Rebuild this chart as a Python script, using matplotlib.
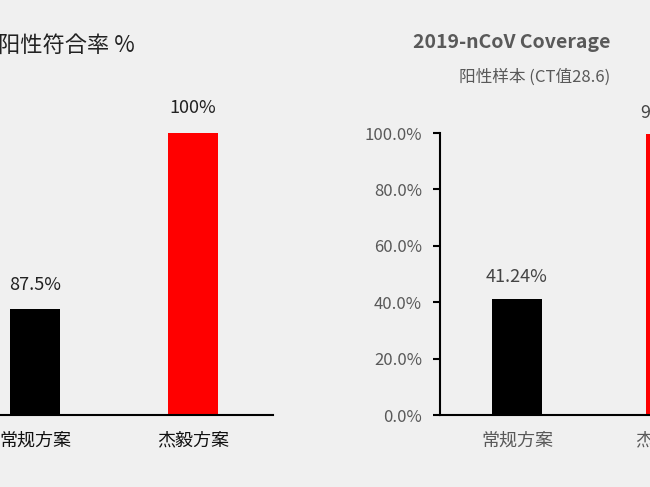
import matplotlib
matplotlib.use("Agg")
import matplotlib.pyplot as plt
from matplotlib import font_manager
from matplotlib.ticker import FuncFormatter

cjk = [f.name for f in font_manager.fontManager.ttflist if "CJK" in f.name]
pref = [n for n in ["Noto Sans CJK SC", "Noto Sans CJK JP", "Noto Sans CJK TC", "Noto Sans CJK KR"] if n in cjk]
plt.rcParams['font.family'] = (pref or cjk[:1]) + ['DejaVu Sans']

categories = ["常规方案", "杰毅方案"]
left_values = [87.5, 100]
left_labels = ["87.5%", "100%"]
right_values = [41.24, 99.48]
right_labels = ["41.24%", "99.48%"]
colors = ["#000000", "#ff0000"]
right_ticks = [0, 20, 40, 60, 80, 100]

W, H = 650, 487
fig = plt.figure(figsize=(6.5, 4.87), dpi=100)
fig.patch.set_facecolor("#f0f0f0")

def px(x0, y0, x1, y1):
    return [x0 / W, 1 - y1 / H, (x1 - x0) / W, (y1 - y0) / H]

# left chart
ax1 = fig.add_axes(px(-45, 133, 273, 415))
ax1.set_facecolor("none")
ax1.bar(range(2), [v - 80 for v in left_values], bottom=80, width=0.32, color=colors)
ax1.set_xlim(-0.506, 1.506)
ax1.set_ylim(80, 100)
for i, (v, l) in enumerate(zip(left_values, left_labels)):
    ax1.text(i, v + 1.1, l, ha="center", va="bottom", fontsize=13, color="#222222", clip_on=False)
for s in ["top", "right", "left"]:
    ax1.spines[s].set_visible(False)
ax1.spines["bottom"].set_linewidth(1.5)
ax1.set_yticks([])
ax1.set_xticks(range(2))
ax1.set_xticklabels(categories, fontsize=13, color="#111111")
ax1.tick_params(axis="x", length=0, pad=12)
fig.text(-2 / W, 1 - 45 / H, "阳性符合率 %", fontsize=16, color="#222222", va="center", ha="left")

# right chart
ax2 = fig.add_axes(px(440, 133, 748, 415))
ax2.set_facecolor("none")
ax2.bar(range(2), right_values, width=0.33, color=colors)
ax2.set_xlim(-0.5, 1.5)
ax2.set_ylim(0, 100)
for i, (v, l) in enumerate(zip(right_values, right_labels)):
    ax2.text(i, v + 4.5, l, ha="center", va="bottom", fontsize=13, color="#444444", clip_on=False)
for s in ["top", "right"]:
    ax2.spines[s].set_visible(False)
ax2.spines["bottom"].set_linewidth(1.5)
ax2.spines["left"].set_linewidth(1.5)
ax2.set_yticks(right_ticks)
ax2.yaxis.set_major_formatter(FuncFormatter(lambda v, p: f"{v:.1f}%"))
ax2.tick_params(axis="y", labelsize=12, labelcolor="#595959", length=5, width=1.5, pad=8)
ax2.set_xticks(range(2))
ax2.set_xticklabels(categories, fontsize=13, color="#595959")
ax2.tick_params(axis="x", length=0, pad=12)
fig.text(413 / W, 1 - 42 / H, "2019-nCoV Coverage", fontsize=14, fontweight="bold",
         color="#595959", va="center", ha="left")
fig.text(459 / W, 1 - 77 / H, "阳性样本 (CT值28.6)", fontsize=12, color="#595959",
         va="center", ha="left")

fig.savefig("out.png", dpi=100, facecolor=fig.get_facecolor())
